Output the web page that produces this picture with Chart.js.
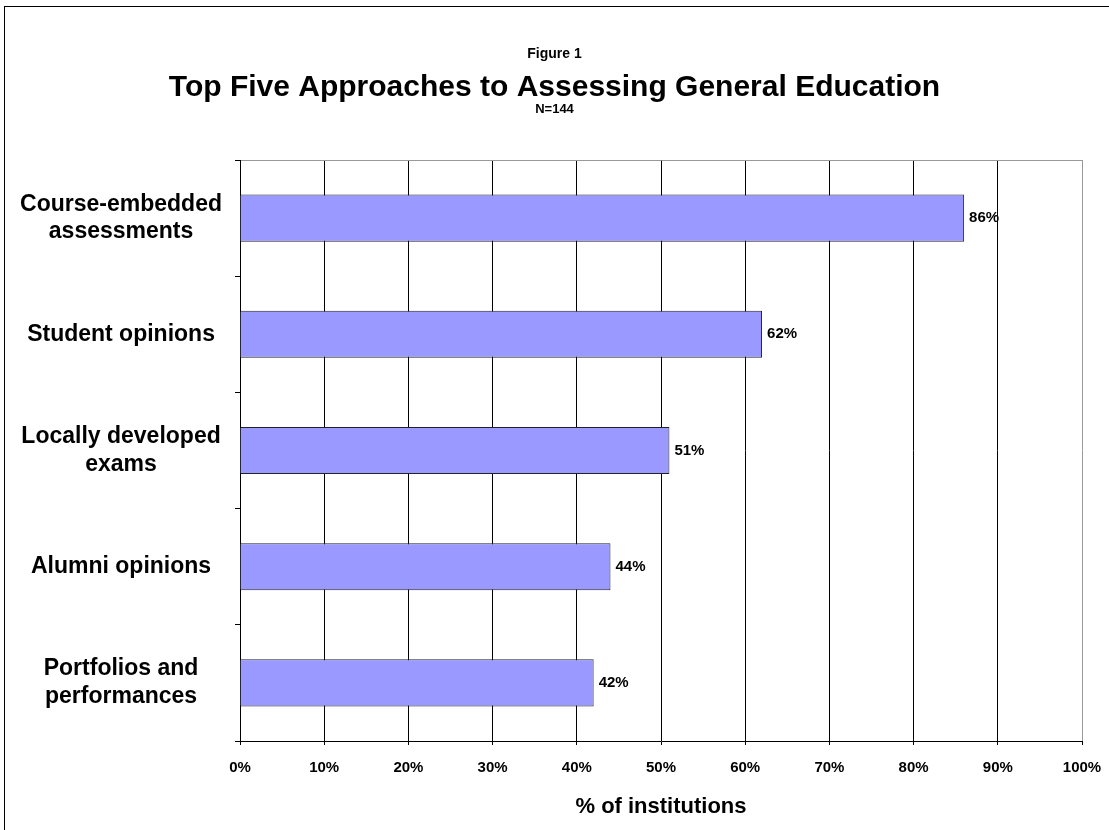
<!DOCTYPE html>
<html>
<head>
<meta charset="utf-8">
<script src="https://cdn.jsdelivr.net/npm/chart.js@4"></script>
<style>
	body { margin: 0; background: #fff; overflow: hidden; }
	#wrap { width: 1109px; height: 830px; }
</style>
</head>
<body>
<div id="wrap"><canvas id="canvas"></canvas></div>
<script>
var categories = [
	['Course-embedded', 'assessments'],
	'Student opinions',
	['Locally developed', 'exams'],
	'Alumni opinions',
	['Portfolios and', 'performances']
];
var percents = [86, 62, 51, 44, 42];
var headings = ['Figure 1', 'Top Five Approaches to Assessing General Education', 'N=144'];
var axisTitle = '% of institutions';

var FONT = "'Liberation Sans', Arial, sans-serif";

// outer frame and heading lines
var framePlugin = {
	id: 'frame',
	beforeDraw: function(chart) {
		var c = chart.ctx;
		c.save();
		c.fillStyle = '#fff';
		c.fillRect(0, 0, chart.width, chart.height);
		c.strokeStyle = '#000';
		c.lineWidth = 1;
		c.strokeRect(4.5, 6.5, 1300, 1000);
		c.fillStyle = '#000';
		c.textAlign = 'center';
		c.textBaseline = 'middle';
		var mid = chart.width / 2;
		c.font = 'bold 14px ' + FONT;
		c.fillText(headings[0], mid, 54);
		c.font = 'bold 30px ' + FONT;
		c.fillText(headings[1], mid, 88);
		c.font = 'bold 13px ' + FONT;
		c.fillText(headings[2], mid, 109);
		c.restore();
	}
};

// value labels right of each bar
var valuePlugin = {
	id: 'values',
	afterDatasetsDraw: function(chart) {
		var c = chart.ctx;
		var meta = chart.getDatasetMeta(0);
		c.save();
		c.font = 'bold 15px ' + FONT;
		c.fillStyle = '#000';
		c.textAlign = 'left';
		c.textBaseline = 'middle';
		meta.data.forEach(function(bar, i) {
			c.fillText(percents[i] + '%', bar.x + 5, bar.y);
		});
		c.restore();
	}
};

var ctx = document.getElementById('canvas').getContext('2d');

var config = {
	type: 'bar',
	data: {
		labels: categories,
		datasets: [{
			data: percents,
			backgroundColor: '#9999FF',
			borderColor: '#222',
			borderWidth: 1,
			categoryPercentage: 1,
			barPercentage: 0.405
		}]
	},
	options: {
		indexAxis: 'y',
		responsive: true,
		maintainAspectRatio: false,
		animation: false,
		layout: { padding: { top: 160, right: 27, bottom: 0, left: 0 } },
		plugins: {
			legend: { display: false },
			tooltip: { enabled: false }
		},
		scales: {
			x: {
				min: 0,
				max: 100,
				ticks: {
					stepSize: 10,
					color: '#000',
					padding: 14,
					font: { family: FONT, size: 15, weight: 'bold' },
					callback: function(v) { return v + '%'; }
				},
				grid: {
					color: function(c) { return c.index === 10 ? '#999' : '#000'; },
					tickColor: '#000',
					tickLength: 4
				},
				border: { color: '#000' },
				title: {
					display: true,
					text: axisTitle,
					color: '#000',
					padding: { top: 0, bottom: 10 },
					font: { family: FONT, size: 22, weight: 'bold' }
				},
				afterFit: function(s) {
					s.height = 89;
					s.paddingRight = 0;
					s.paddingLeft = 0;
				}
			},
			y: {
				ticks: {
					color: '#000',
					padding: 13,
					crossAlign: 'center',
					font: { family: FONT, size: 23, weight: 'bold' }
				},
				grid: {
					offset: true,
					color: function(c) { return c.index === 0 ? '#999' : 'rgba(0,0,0,0)'; },
					tickColor: '#000',
					tickLength: 5
				},
				border: { color: '#000' },
				afterFit: function(s) { s.width = 240; }
			}
		}
	},
	plugins: [framePlugin, valuePlugin]
};

var mychart = new Chart(ctx, config);
</script>
</body>
</html>
